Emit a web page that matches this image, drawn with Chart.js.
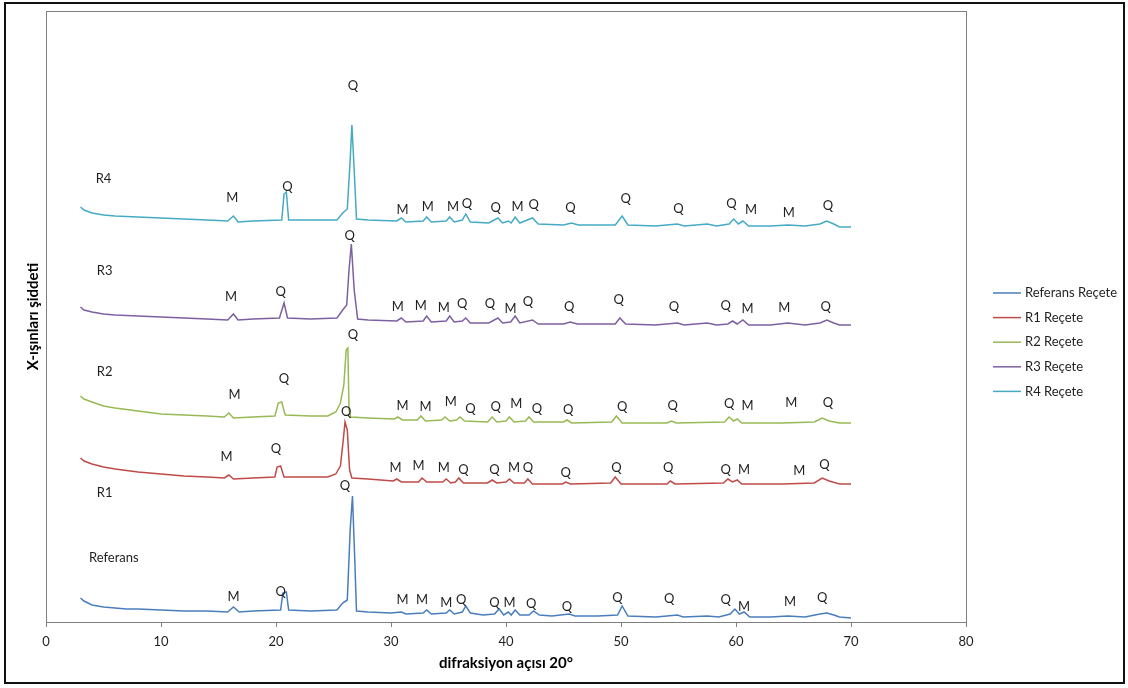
<!DOCTYPE html>
<html>
<head>
<meta charset="utf-8">
<script src="https://cdn.jsdelivr.net/npm/chart.js@4/dist/chart.umd.min.js"></script>
<style>
  html, body { margin: 0; padding: 0; background: #fff; }
  #wrap { width: 1128px; height: 688px; position: relative; }
</style>
</head>
<body>
<div id="wrap"><canvas id="xrdChart" width="1128" height="688"></canvas></div>
<script>
// XRD desenleri: [2θ, şiddet (ofsetli, keyfi birim)]
const referansPattern = [
    [3, 24], [3.3, 21], [4, 17], [5, 15], [6, 14], [7, 13], [8, 13], [10, 12], [12, 11], [14, 11],
    [15.8, 10], [16.3, 15], [16.8, 10], [18, 11], [20.4, 12], [20.6, 29], [20.9, 30], [21.1, 12],
    [23, 11], [25.3, 12], [25.8, 19], [26.2, 22], [26.45, 92], [26.65, 126], [26.85, 62], [27.0, 11],
    [28, 10], [30, 9], [30.9, 10], [31.3, 8], [32.8, 9], [33.1, 12], [33.5, 8], [34.8, 9], [35.1, 12],
    [35.5, 8], [36.2, 10], [36.5, 16], [36.9, 9], [38, 7], [39.0, 8], [39.4, 13], [39.8, 7], [40.2, 10],
    [40.45, 7], [40.8, 12], [41.2, 7], [42.0, 7], [42.4, 11], [42.9, 7], [44, 6], [45.5, 8], [46.0, 6],
    [48, 6], [49.7, 7], [50.1, 16], [50.6, 6], [53, 5], [54, 6], [54.9, 7], [55.4, 5], [57.5, 6],
    [58.5, 5], [59.5, 8], [59.9, 13], [60.3, 8], [60.7, 10], [61.2, 5], [63, 5], [64.5, 6], [66, 5],
    [67.3, 8], [67.9, 9], [68.5, 7], [69, 5], [70, 4]
];
const r1Pattern = [
    [3, 164], [3.3, 161], [4, 158], [5, 155], [6, 153], [8, 150], [10, 148], [12, 146], [14, 145],
    [15.5, 144], [15.9, 147], [16.3, 143], [18, 144], [19.9, 145], [20.1, 155], [20.4, 156], [20.7, 145],
    [23, 145], [24.5, 145], [25.2, 148], [25.6, 156], [25.85, 182], [26.0, 200], [26.2, 192], [26.4, 152],
    [26.6, 144], [28, 143], [30.2, 141], [30.5, 143], [30.9, 140], [32.4, 140], [32.7, 144], [33.1, 140],
    [34.5, 140], [34.8, 143], [35.2, 139], [35.6, 140], [35.9, 144], [36.3, 139], [38.4, 139], [38.8, 142],
    [39.2, 139], [40.0, 140], [40.3, 143], [40.7, 139], [41.6, 139], [41.9, 143], [42.3, 138], [44.9, 138],
    [45.2, 140], [45.6, 138], [49.1, 139], [49.5, 145], [50.0, 138], [54.0, 138], [54.3, 141], [54.7, 138],
    [58.9, 139], [59.3, 143], [59.7, 140], [60.1, 142], [60.5, 138], [64, 138], [66.8, 139], [67.5, 144],
    [68.1, 141], [69, 138], [70, 138]
];
const r2Pattern = [
    [3, 226], [3.3, 223], [4, 220], [5, 216], [6, 214], [8, 211], [10, 208], [12, 207], [14, 206],
    [15.5, 205], [15.9, 209], [16.3, 204], [18, 205], [19.9, 206], [20.2, 219], [20.5, 220], [20.8, 207],
    [23, 206], [24.5, 206], [25.2, 210], [25.6, 219], [25.9, 237], [26.1, 272], [26.25, 274], [26.35, 212],
    [26.5, 205], [28, 204], [30.3, 203], [30.6, 205], [31, 202], [32.3, 202], [32.6, 206], [33, 201],
    [34.4, 202], [34.7, 205], [35.1, 201], [35.7, 202], [36, 205], [36.4, 201], [38.4, 200], [38.8, 205],
    [39.2, 200], [40.0, 201], [40.3, 205], [40.7, 200], [41.7, 201], [42.0, 205], [42.4, 200], [45.0, 200],
    [45.3, 202], [45.7, 199], [49.2, 200], [49.6, 206], [50.1, 199], [54.0, 199], [54.4, 201], [54.8, 199],
    [59.0, 200], [59.4, 205], [59.8, 201], [60.1, 203], [60.5, 199], [64, 199], [66.8, 200], [67.5, 204],
    [68.1, 201], [69, 199], [70, 199]
];
const r3Pattern = [
    [3, 315], [3.3, 312], [4, 310], [5, 308], [6, 307], [8, 306], [10, 305], [12, 304], [14, 303],
    [15.8, 302], [16.3, 308], [16.7, 302], [18, 303], [20.3, 304], [20.7, 319], [21.0, 304], [23, 303],
    [25.3, 304], [25.8, 312], [26.15, 317], [26.35, 352], [26.55, 378], [26.8, 332], [27.1, 303], [28, 302],
    [30.5, 301], [30.9, 304], [31.3, 300], [32.8, 301], [33.1, 306], [33.5, 300], [34.8, 301], [35.1, 306],
    [35.5, 300], [36.2, 301], [36.5, 304], [36.9, 299], [38.5, 299], [39.3, 304], [39.7, 299], [40.4, 300],
    [40.8, 306], [41.2, 299], [42.3, 302], [42.8, 298], [45, 298], [45.6, 300], [46.2, 298], [49.5, 298],
    [49.9, 304], [50.4, 298], [53, 297], [54.9, 299], [55.5, 297], [57.5, 299], [58.3, 297], [59.3, 298],
    [59.7, 301], [60.1, 298], [60.6, 302], [61.1, 297], [63, 297], [64.5, 299], [66, 297], [67.3, 299],
    [67.9, 302], [68.5, 299], [69, 297], [70, 297]
];
const r4Pattern = [
    [3, 415], [3.3, 412], [4, 409], [5, 407], [6, 406], [8, 405], [10, 404], [12, 403], [14, 402],
    [15.8, 401], [16.3, 406], [16.7, 400], [18, 401], [20.5, 402], [20.7, 428], [20.9, 430], [21.1, 402],
    [23, 402], [25.3, 402], [25.8, 409], [26.2, 413], [26.45, 462], [26.6, 497], [26.8, 452], [27.0, 403],
    [28, 402], [30.5, 401], [30.9, 404], [31.3, 400], [32.8, 401], [33.1, 405], [33.5, 400], [34.8, 401],
    [35.1, 405], [35.5, 400], [36.2, 402], [36.5, 408], [36.9, 400], [38.5, 399], [39.3, 404], [39.7, 399],
    [40.2, 401], [40.45, 399], [40.8, 405], [41.2, 399], [42.3, 404], [42.8, 398], [45, 397], [45.7, 399],
    [46.3, 397], [49.5, 397], [50.1, 406], [50.6, 397], [53, 396], [54.9, 398], [55.5, 396], [57.5, 398],
    [58.3, 396], [59.4, 398], [59.8, 403], [60.2, 398], [60.6, 401], [61.1, 396], [63, 396], [64.5, 397],
    [66, 396], [67.3, 398], [67.9, 401], [68.5, 398], [69, 395], [70, 395]
];

// Faz işaretleri: [2θ, seviye, faz] (M: mika, Q: kuvars)
const referansPeaks = [
    [16.3, 25, 'M'], [20.4, 30, 'Q'], [26.0, 136, 'Q'], [31.0, 22, 'M'], [32.7, 22, 'M'], [34.8, 19, 'M'],
    [36.1, 22, 'Q'], [39.0, 19, 'Q'], [40.3, 19, 'M'], [42.2, 18, 'Q'], [45.3, 15, 'Q'], [49.7, 24, 'Q'],
    [54.2, 23, 'Q'], [59.1, 22, 'Q'], [60.7, 15, 'M'], [64.7, 20, 'M'], [67.5, 24, 'Q']
];
const r1Peaks = [
    [15.7, 165, 'M'], [20.0, 173, 'Q'], [26.1, 210, 'Q'], [30.4, 154, 'M'], [32.4, 156, 'M'], [34.6, 154, 'M'],
    [36.3, 152, 'Q'], [39.0, 152, 'Q'], [40.7, 154, 'M'], [41.9, 154, 'Q'], [45.2, 149, 'Q'], [49.6, 154, 'Q'],
    [54.1, 154, 'Q'], [59.1, 152, 'Q'], [60.7, 152, 'M'], [65.5, 151, 'M'], [67.7, 157, 'Q']
];
const r2Peaks = [
    [16.4, 227, 'M'], [20.7, 243, 'Q'], [26.7, 287, 'Q'], [31.0, 216, 'M'], [33.0, 215, 'M'], [35.2, 220, 'M'],
    [36.9, 213, 'Q'], [39.1, 215, 'Q'], [40.9, 218, 'M'], [42.7, 213, 'Q'], [45.4, 212, 'Q'], [50.1, 215, 'Q'],
    [54.5, 216, 'Q'], [59.4, 218, 'Q'], [61.0, 216, 'M'], [64.8, 219, 'M'], [68.0, 219, 'Q']
];
const r3Peaks = [
    [16.1, 325, 'M'], [20.4, 330, 'Q'], [26.4, 386, 'Q'], [30.6, 315, 'M'], [32.6, 316, 'M'], [34.6, 314, 'M'],
    [36.2, 318, 'Q'], [38.6, 318, 'Q'], [40.4, 313, 'M'], [41.9, 320, 'Q'], [45.5, 315, 'Q'], [49.8, 322, 'Q'],
    [54.6, 315, 'Q'], [59.1, 316, 'Q'], [61.0, 313, 'M'], [64.2, 314, 'M'], [67.8, 315, 'Q']
];
const r4Peaks = [
    [16.2, 424, 'M'], [21.0, 435, 'Q'], [26.7, 536, 'Q'], [31.0, 412, 'M'], [33.2, 415, 'M'], [35.4, 415, 'M'],
    [36.6, 418, 'Q'], [39.1, 414, 'Q'], [41.0, 415, 'M'], [42.4, 417, 'Q'], [45.6, 414, 'Q'], [50.4, 423, 'Q'],
    [55.0, 413, 'Q'], [59.6, 418, 'Q'], [61.3, 412, 'M'], [64.6, 409, 'M'], [68.0, 416, 'Q']
];

// Numune adları: [ad, 2θ, seviye]
const sampleTags = [
    ['Referans', 5.9, 64], ['R1', 5.1, 129], ['R2', 5.1, 250], ['R3', 5.1, 351], ['R4', 5.0, 443]
];

const legendNames = ['Referans Reçete', 'R1 Reçete', 'R2 Reçete', 'R3 Reçete', 'R4 Reçete'];
const xTicks = [0, 10, 20, 30, 40, 50, 60, 70, 80];

const lineColors = ['#4a7ebb', '#be4b48', '#98b954', '#7d60a0', '#46aac5'];
const patterns = [referansPattern, r1Pattern, r2Pattern, r3Pattern, r4Pattern];
const peakSets = [referansPeaks, r1Peaks, r2Peaks, r3Peaks, r4Peaks];

const FONT = 'Lato, "Open Sans", sans-serif';

// çerçeveler, etiketler ve lejant
const decorPlugin = {
    id: 'decor',
    beforeDraw(chart) {
        const ctx = chart.ctx;
        ctx.save();
        ctx.fillStyle = '#fff';
        ctx.fillRect(0, 0, chart.width, chart.height);
        ctx.restore();
    },
    afterDatasetsDraw(chart) {
        const ctx = chart.ctx;
        const xs = chart.scales.x;
        const ys = chart.scales.y;
        const area = chart.chartArea;
        ctx.save();

        // çizim alanı çerçevesi
        ctx.strokeStyle = '#7f7f7f';
        ctx.lineWidth = 1;
        ctx.strokeRect(area.left + 0.5, area.top + 0.5, area.right - area.left, area.bottom - area.top);

        // M / Q işaretleri
        ctx.fillStyle = '#1f1f1f';
        ctx.font = '13px ' + FONT;
        ctx.textAlign = 'center';
        ctx.textBaseline = 'middle';
        peakSets.forEach(set => {
            set.forEach(([angle, level, phase]) => {
                ctx.fillText(phase, xs.getPixelForValue(angle), ys.getPixelForValue(level));
            });
        });
        sampleTags.forEach(([name, angle, level]) => {
            ctx.fillText(name, xs.getPixelForValue(angle), ys.getPixelForValue(level));
        });

        // eksen başlıkları
        ctx.font = 'bold 15px ' + FONT;
        ctx.fillStyle = '#000';
        ctx.fillText('difraksiyon açısı 20°', (area.left + area.right) / 2, 663);
        ctx.save();
        ctx.translate(33, (area.top + area.bottom) / 2);
        ctx.rotate(-Math.PI / 2);
        ctx.fillText('X-ışınları şiddeti', 0, 0);
        ctx.restore();

        // lejant
        ctx.font = '13px ' + FONT;
        ctx.textAlign = 'left';
        ctx.fillStyle = '#1f1f1f';
        chart.data.datasets.forEach((ds, i) => {
            const y = 293 + i * 24.6;
            ctx.strokeStyle = ds.borderColor;
            ctx.lineWidth = 1.5;
            ctx.beginPath();
            ctx.moveTo(993, y);
            ctx.lineTo(1021, y);
            ctx.stroke();
            ctx.fillText(ds.label, 1025, y);
        });

        // dış çerçeve
        ctx.strokeStyle = '#111';
        ctx.lineWidth = 2;
        ctx.strokeRect(5, 3, 1119, 680);
        ctx.restore();
    }
};

new Chart(document.getElementById('xrdChart'), {
    type: 'line',
    data: {
        datasets: patterns.map((p, i) => ({
            label: legendNames[i],
            data: p.map(([x, y]) => ({ x, y })),
            borderColor: lineColors[i],
            borderWidth: 1.5,
            pointRadius: 0,
            tension: 0,
            fill: false
        }))
    },
    options: {
        responsive: false,
        animation: false,
        events: [],
        layout: { padding: { left: 46, top: 11, right: 162, bottom: 0 } },
        scales: {
            x: {
                type: 'linear',
                min: 0,
                max: 80,
                afterFit(scale) { scale.height = 66; },
                afterBuildTicks(scale) { scale.ticks = xTicks.map(v => ({ value: v })); },
                grid: { drawOnChartArea: false, drawTicks: true, tickLength: 5, color: '#7f7f7f' },
                border: { color: '#7f7f7f' },
                ticks: { padding: 7, color: '#1f1f1f', font: { family: FONT, size: 13 }, maxRotation: 0 }
            },
            y: {
                type: 'linear',
                min: 0,
                max: 611,
                display: false
            }
        },
        plugins: {
            legend: { display: false },
            tooltip: { enabled: false }
        }
    },
    plugins: [decorPlugin]
});
</script>
</body>
</html>
